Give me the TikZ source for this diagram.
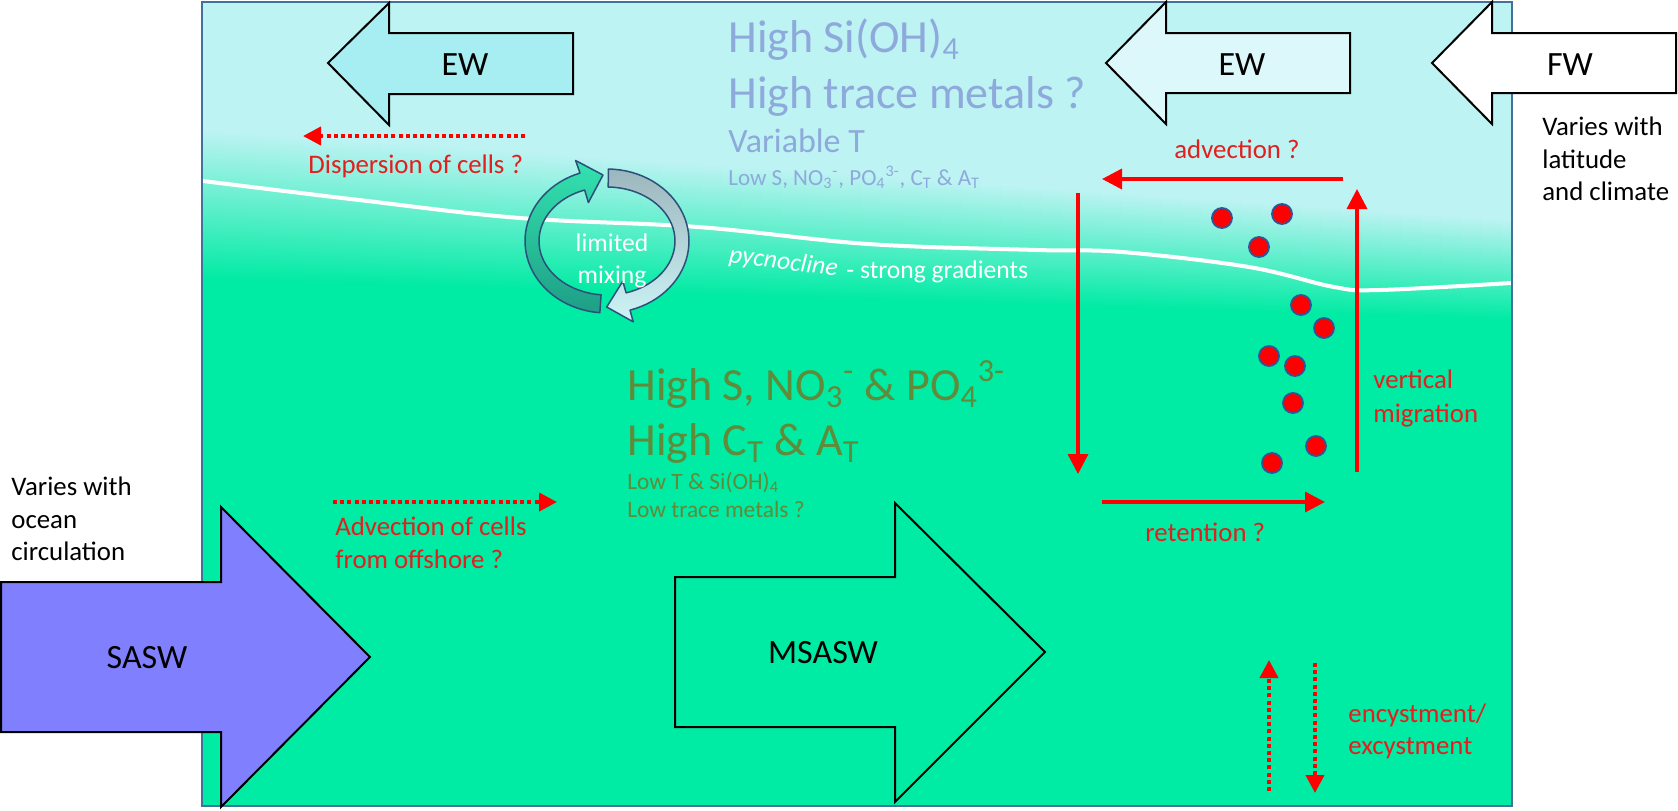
\documentclass[tikz,border=0pt]{standalone}
\usepackage{fontspec}
\setmainfont{Carlito}
\usetikzlibrary{arrows.meta}

\definecolor{cyanbg}{HTML}{BDF3F3}
\definecolor{greenbg}{HTML}{00EBA3}
\definecolor{boxline}{HTML}{41719C}
\definecolor{topblue}{HTML}{8EA9DB}
\definecolor{olivetxt}{HTML}{5F8B3A}
\definecolor{redtxt}{HTML}{E41E1E}
\definecolor{ewfill}{HTML}{A6EEF2}
\definecolor{ewfillb}{HTML}{DDF8FA}
\definecolor{saswfill}{HTML}{8080FF}
\definecolor{celledge}{HTML}{2F5597}
\definecolor{cycline}{HTML}{2E4F7A}
\definecolor{cycgT}{HTML}{33E3B0}
\definecolor{cycgB}{HTML}{1E9E86}
\definecolor{cycbT}{HTML}{9CB6BD}
\definecolor{cycbB}{HTML}{CDF4F6}

\tikzset{
  blockarrow/.style={draw=black, line width=1pt, line join=miter},
  lbl/.style={inner sep=0pt, anchor=base west},
  blocklbl/.style={inner sep=0pt, font=\fontsize{17}{20}\selectfont, text=black},
  redtext/.style={lbl, font=\fontsize{13.4}{16}\selectfont, text=redtxt},
  sidetext/.style={lbl, font=\fontsize{13.4}{16}\selectfont, text=black},
  redarrow/.style={draw=red, line width=1.75pt, -{Triangle[length=10pt,width=10pt]}},
  dotarrow/.style={draw=red, line width=2pt, dash pattern=on 2pt off 1.6pt, -{Triangle[length=9pt,width=9pt]}},
  cell/.style={circle, fill=red, draw=celledge, line width=0.9pt, minimum size=10pt, inner sep=0pt},
  cyc/.style={draw=cycline, line width=0.75pt, line join=round},
  whitetxt/.style={inner sep=0pt, font=\fontsize{12.8}{15}\selectfont, text=white}
}

\begin{document}
\begin{tikzpicture}[x=0.5pt, y=-0.5pt]
\useasboundingbox (0,0) rectangle (1678,810);

% background water
\fill[greenbg] (202,2) rectangle (1512,806);
\foreach \i in {0,...,65} {
  \pgfmathsetmacro\xa{202+20*\i}
  \pgfmathsetmacro\xb{min(202+20*\i+21,1512)}
  \pgfmathsetmacro\ya{130+(\i/65.5)*90}
  \pgfmathsetmacro\yb{280+(\i/65.5)*40}
  \fill[cyanbg] (\xa,2) rectangle (\xb,\ya+1);
  \shade[top color=cyanbg, bottom color=greenbg] (\xa,\ya) rectangle (\xb,\yb);
}

% pycnocline
\draw[white, line width=2pt] plot[smooth, tension=0.6] coordinates
  {(203,181) (359,200) (520,218) (698,227) (868,244) (1037,250) (1122,252) (1249,267) (1334,287) (1380,290) (1511,283)};

\draw[boxline, line width=1pt] (202,2) rectangle (1512,806);

% block arrows
\draw[blockarrow, fill=ewfill] (328,63) -- (389,3) -- (389,33) -- (573,33) -- (573,94) -- (389,94) -- (389,125) -- cycle;
\node[blocklbl] (ew1) at (465,65) {EW};

\draw[blockarrow, fill=ewfillb] (1106,63) -- (1166,2) -- (1166,33) -- (1350,33) -- (1350,93) -- (1166,93) -- (1166,124) -- cycle;
\node[blocklbl] (ew2) at (1242,65) {EW};

\draw[blockarrow, fill=white] (1432,63) -- (1492,2) -- (1492,33) -- (1676,33) -- (1676,93) -- (1492,93) -- (1492,124) -- cycle;
\node[blocklbl] (fw) at (1570,65) {FW};

\draw[blockarrow, fill=saswfill] (1,582) -- (221,582) -- (221,507) -- (370,657) -- (221,807) -- (221,732) -- (1,732) -- cycle;
\node[blocklbl] (sasw) at (147,658) {SASW};

\draw[blockarrow, fill=greenbg] (675,577) -- (895,577) -- (895,503) -- (1045,652) -- (895,802) -- (895,727) -- (675,727) -- cycle;
\node[blocklbl] (msasw) at (823,653) {MSASW};

% top water properties
\node[lbl, font=\fontsize{23}{27}\selectfont, text=topblue] (hiSi) at (728,52) {High Si(OH)\textsubscript{4}};
\node[lbl, font=\fontsize{23}{27}\selectfont, text=topblue] (hiTM) at (728,108) {High trace metals ?};
\node[lbl, font=\fontsize{17}{20}\selectfont, text=topblue] (varT) at (728,152) {Variable T};
\node[lbl, font=\fontsize{11.5}{14}\selectfont, text=topblue] (lowS) at (728,185) {Low S, NO\textsubscript{3}\textsuperscript{-}, PO\textsubscript{4}\textsuperscript{3-}, C\textsubscript{T} \& A\textsubscript{T}};

% bottom water properties
\node[lbl, font=\fontsize{23}{27}\selectfont, text=olivetxt] (hiS) at (627,400) {High S, NO\textsubscript{3}\textsuperscript{-} \& PO\textsubscript{4}\textsuperscript{3-}};
\node[lbl, font=\fontsize{23}{27}\selectfont, text=olivetxt] (hiC) at (627,455) {High C\textsubscript{T} \& A\textsubscript{T}};
\node[lbl, font=\fontsize{11.7}{14}\selectfont, text=olivetxt] (lowT) at (627,489) {Low T \& Si(OH)\textsubscript{4}};
\node[lbl, font=\fontsize{11.7}{14}\selectfont, text=olivetxt] (lowTM) at (627,517) {Low trace metals ?};

% pycnocline label
\node[whitetxt, anchor=base west, rotate=-7.5] (pyc) at (728,262) {\itshape pycnocline};
\node[whitetxt, anchor=base west] (strong) at (846,278) {- strong gradients};

% limited mixing cycle
\path[cyc, top color=cycgT, bottom color=cycgB]
  plot[domain=95:250.8, samples=40] ({607+82*cos(\x)},{241+72*sin(\x)})
  -- (575.6,160.5) -- (603,175) -- (588.4,202.5)
  -- plot[domain=250.8:95, samples=40] ({607+68*cos(\x)},{241+54*sin(\x)})
  -- cycle;
\path[cyc, top color=cycbT, bottom color=cycbB]
  plot[domain=271:433.7, samples=40] ({607+82*cos(\x)},{241+72*sin(\x)})
  -- (633.2,321.8) -- (606.7,307) -- (622.8,281.2)
  -- plot[domain=433.7:271, samples=40] ({607+68*cos(\x)},{241+54*sin(\x)})
  -- cycle;
\node[whitetxt, anchor=base] (lim) at (612,251) {limited};
\node[whitetxt, anchor=base] (mix) at (612,283) {mixing};

% dispersion / advection of cells
\coordinate (dispS) at (525,136);
\coordinate (dispE) at (303,136);
\draw[dotarrow] (dispS) -- (dispE);
\node[redtext] (disp) at (308,173) {Dispersion of cells ?};

\coordinate (advoS) at (333,502);
\coordinate (advoE) at (557,502);
\draw[dotarrow] (advoS) -- (advoE);
\node[redtext] (advo1) at (335,535) {Advection of cells};
\node[redtext] (advo2) at (335,568) {from offshore ?};

% retention loop
\coordinate (advS) at (1343,179);
\coordinate (advE) at (1102,179);
\coordinate (downS) at (1078,193);
\coordinate (downE) at (1078,474);
\coordinate (retS) at (1102,502);
\coordinate (retE) at (1325,502);
\coordinate (upS) at (1357,472);
\coordinate (upE) at (1357,189);
\draw[redarrow] (advS) -- (advE);
\draw[redarrow] (downS) -- (downE);
\draw[redarrow] (retS) -- (retE);
\draw[redarrow] (upS) -- (upE);
\node[redtext] (adv) at (1174,158) {advection ?};
\node[redtext] (ret) at (1145,541) {retention ?};
\node[redtext] (vert1) at (1373,388) {vertical};
\node[redtext] (vert2) at (1373,422) {migration};

% cells
\node[cell] (c1) at (1222,218) {};
\node[cell] (c2) at (1282,214) {};
\node[cell] (c3) at (1259,247) {};
\node[cell] (c4) at (1301,305) {};
\node[cell] (c5) at (1324,328) {};
\node[cell] (c6) at (1269,356) {};
\node[cell] (c7) at (1295,366) {};
\node[cell] (c8) at (1293,403) {};
\node[cell] (c9) at (1316,446) {};
\node[cell] (c10) at (1272,463) {};

% encystment
\coordinate (encUS) at (1269,791);
\coordinate (encUE) at (1269,660);
\coordinate (encDS) at (1315,663);
\coordinate (encDE) at (1315,793);
\draw[dotarrow] (encUS) -- (encUE);
\draw[dotarrow] (encDS) -- (encDE);
\node[redtext] (enc1) at (1348,722) {encystment/};
\node[redtext] (enc2) at (1348,754) {excystment};

% side notes
\node[sidetext] (lat1) at (1542,135) {Varies with};
\node[sidetext] (lat2) at (1542,168) {latitude};
\node[sidetext] (lat3) at (1542,200) {and climate};
\node[sidetext] (oc1) at (11,495) {Varies with};
\node[sidetext] (oc2) at (11,528) {ocean};
\node[sidetext] (oc3) at (11,560) {circulation};
\end{tikzpicture}
\end{document}
